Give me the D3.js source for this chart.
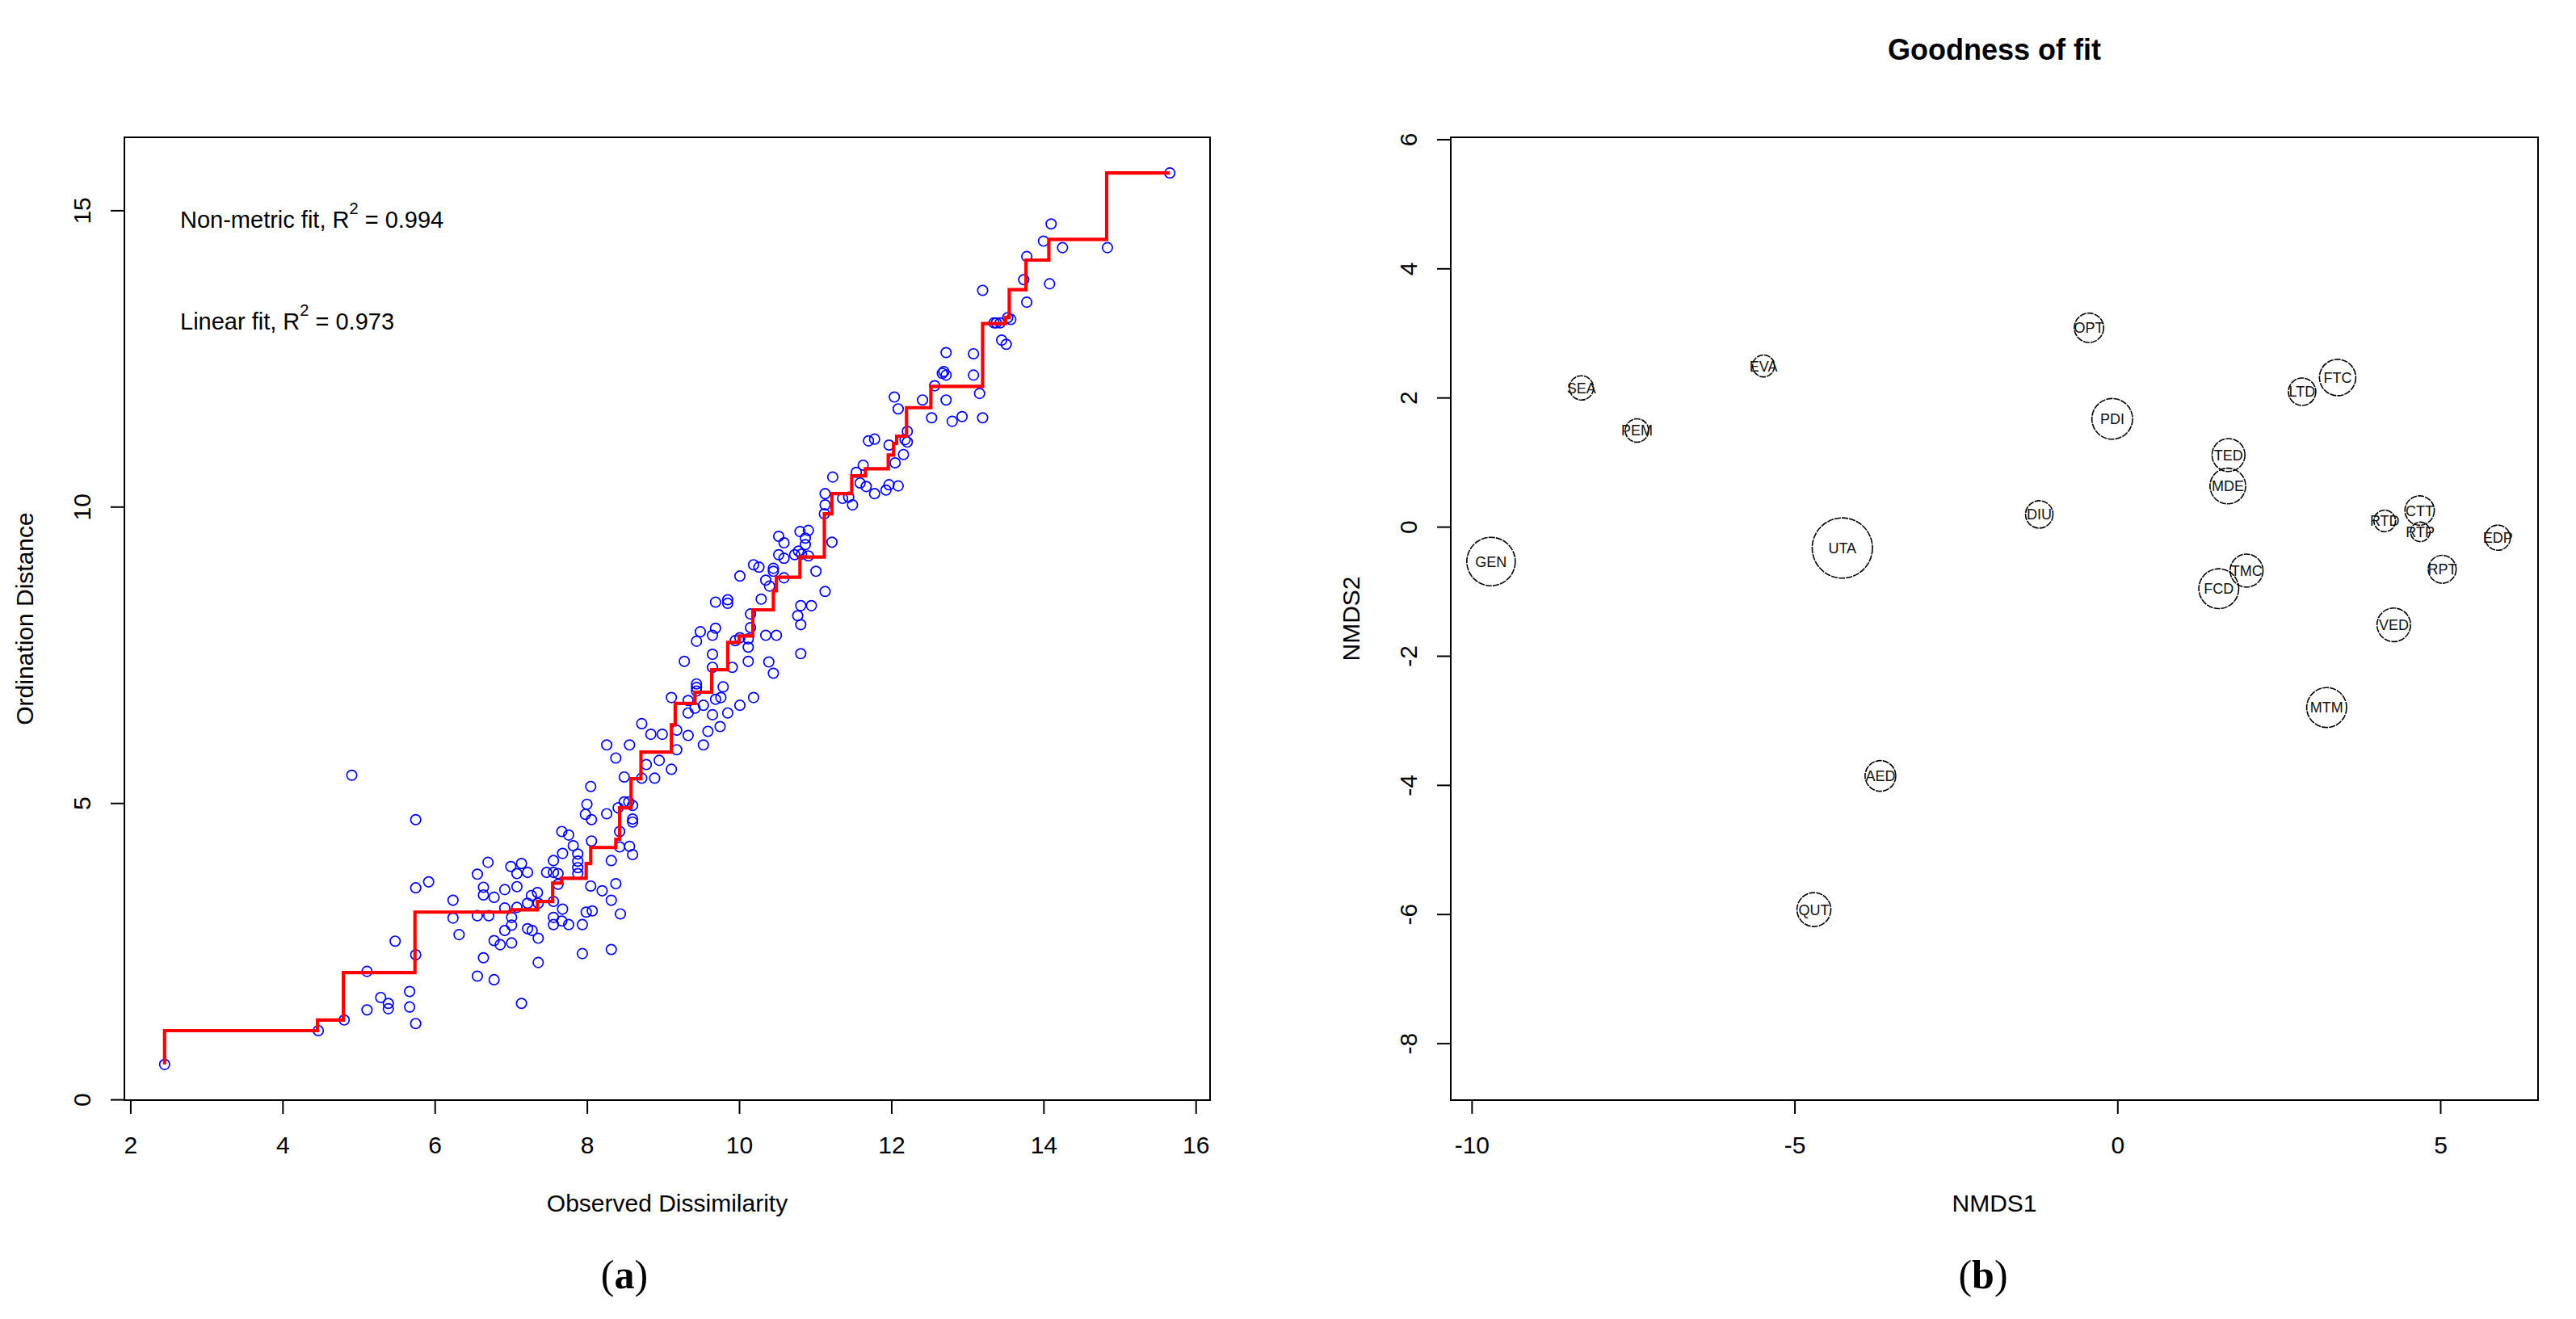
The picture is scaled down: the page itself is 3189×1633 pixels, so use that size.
<!DOCTYPE html>
<html>
<head>
<meta charset="utf-8">
<script src="https://cdn.jsdelivr.net/npm/d3@7"></script>
<style>
  body { margin: 0; background: #fff; }
  svg text { font-family: "Liberation Sans", Arial, sans-serif; fill: #000; }
</style>
</head>
<body>
<div id="chart"></div>
<script>
// ---- panel (a): Shepard diagram, observed dissimilarity vs ordination distance
var dissim = [
  2.45, 4.47, 4.81, 4.91, 5.75, 5.11, 5.29, 5.39, 5.39, 5.67, 5.67, 5.75, 5.11, 5.48, 5.75, 5.75,
  5.92, 6.24, 6.24, 6.32, 6.56, 6.70, 6.64, 6.64, 6.78, 6.56, 6.71, 6.64, 6.56, 6.78, 6.78, 6.86,
  7.01, 7.14, 6.92, 7.00, 7.14, 7.08, 7.22, 7.08, 6.92, 7.08, 7.01, 7.01, 6.92, 7.22, 7.28, 7.36,
  7.36, 7.27, 7.35, 7.22, 7.36, 7.47, 7.56, 7.62, 7.56, 7.68, 7.67, 7.76, 7.82, 7.62, 7.56, 7.68,
  7.56, 7.56, 7.67, 7.76,
  7.94, 8.32, 7.94, 7.99, 8.07, 8.44, 8.32, 8.20, 8.38, 8.05, 7.88, 7.88, 7.88, 7.88, 8.06, 8.32,
  8.43, 8.56, 8.60, 8.43, 8.00, 7.98, 8.06, 8.26, 8.05, 8.41, 8.49, 8.55, 8.60, 8.60, 8.60, 8.49,
  8.72, 8.89, 8.78, 8.38, 8.26, 8.56, 8.95, 9.11, 9.18, 9.18, 8.72, 8.84, 8.99, 9.33, 9.53, 9.59,
  9.75, 9.11, 9.33, 9.33, 9.42, 9.53, 9.65, 9.85, 10.01, 10.19, 9.69, 9.76, 9.79, 9.44, 9.44, 9.44,
  9.28, 9.65, 9.65, 9.91, 10.12, 10.39, 10.45, 10.81, 9.44, 9.49, 9.65, 9.69, 9.95, 10.01, 10.12, 10.12,
  10.15, 10.35, 10.49, 10.15, 10.29, 9.69, 9.85, 9.85, 10.01, 10.19, 10.26, 10.45, 10.45, 10.35, 10.40, 10.59,
  11.01, 11.13, 10.81, 10.95, 10.77, 10.81, 10.52, 10.59, 10.52, 10.59, 10.73, 10.78, 10.82, 10.80, 10.91, 10.87,
  10.87, 10.91, 11.22,
  11.12, 11.13, 11.13, 11.36, 11.44, 11.49, 11.23, 11.54, 11.63, 11.59, 11.67, 11.78, 11.93, 11.97, 12.09, 11.70,
  11.78, 11.97, 12.05, 12.16, 12.21, 12.18, 12.21, 12.04, 12.09, 12.41, 12.53, 12.80, 12.93, 13.20, 12.72, 13.16,
  12.57, 13.08, 12.69, 12.72, 12.67, 12.72, 13.08, 13.45, 13.51, 13.35, 13.38, 13.43, 13.53, 13.57, 13.20, 13.78,
  13.74, 14.08, 13.78, 14.00, 14.25, 14.10, 14.84, 15.66
];
var ordDist = [
  0.59, 1.16, 1.34, 5.47, 4.72, 1.51, 1.72, 1.62, 1.53, 1.82, 1.56, 1.28, 2.16, 2.67, 2.44, 3.57,
  3.67, 3.36, 3.06, 2.78, 3.80, 4.00, 3.58, 3.45, 3.41, 3.10, 3.10, 2.39, 2.08, 2.02, 2.68, 2.61,
  2.64, 1.62, 3.54, 3.93, 3.98, 3.81, 3.83, 3.59, 3.23, 3.24, 3.07, 2.94, 2.85, 2.88, 2.85, 2.72,
  2.31, 3.44, 3.49, 3.31, 3.31, 3.83, 3.83, 3.81, 4.03, 4.15, 4.52, 4.46, 4.28, 3.63, 3.34, 3.21,
  3.07, 2.95, 3.01, 2.95,
  2.46, 2.53, 2.95, 3.16, 3.18, 3.13, 3.36, 3.52, 3.64, 3.60, 4.14, 4.02, 3.91, 3.81, 4.36, 4.03,
  4.26, 4.27, 4.13, 4.52, 4.98, 4.81, 4.72, 4.82, 5.28, 4.92, 5.02, 5.02, 4.96, 4.73, 4.68, 5.44,
  5.42, 5.42, 5.65, 5.76, 5.98, 5.98, 5.72, 5.57, 5.90, 6.23, 6.34, 6.16, 6.16, 6.14, 5.98, 6.21,
  6.29, 6.78, 6.73, 6.52, 6.60, 6.65, 6.49, 6.52, 6.65, 6.78, 6.75, 6.78, 6.96, 7.01, 6.95, 6.89,
  7.39, 7.51, 7.29, 7.29, 7.39, 7.38, 7.19, 7.52, 7.73, 7.89, 7.83, 7.95, 7.74, 7.79, 7.63, 7.77,
  7.96, 7.83, 7.83, 8.19, 8.44, 8.39, 8.43, 8.37, 8.83, 9.02, 8.98, 8.96, 8.91, 8.76, 8.66, 8.80,
  8.91, 8.57, 8.33, 8.33, 8.16, 8.01, 9.50, 9.39, 9.19, 9.13, 9.19, 9.25, 9.20, 9.58, 9.60, 9.47,
  9.36, 9.17, 9.40,
  9.88, 10.03, 10.22, 10.14, 10.16, 10.03, 10.50, 10.58, 10.70, 10.40, 10.34, 10.22, 10.28, 10.37, 10.35, 11.11,
  11.14, 11.04, 10.74, 10.88, 11.27, 11.13, 11.09, 11.85, 11.65, 11.80, 11.50, 11.44, 11.52, 11.50, 11.80, 11.91,
  12.04, 12.22, 12.28, 12.22, 12.25, 12.60, 12.58, 12.81, 12.74, 13.10, 13.10, 13.10, 13.19, 13.16, 13.65, 13.45,
  13.83, 13.76, 14.22, 14.48, 14.37, 14.77, 14.37, 15.63
];
// monotone (non-metric) fit, drawn as a step line
var fitX = [2.45, 4.46, 4.80, 5.74, 7.00, 7.35, 7.55, 7.67, 7.99, 8.05, 8.38, 8.43, 8.58, 8.71, 9.11, 9.16,
  9.42, 9.64, 9.85, 10.00, 10.18, 10.45, 10.49, 10.80, 11.12, 11.22, 11.48, 11.66, 11.96, 12.03, 12.07, 12.20,
  12.52, 13.20, 13.50, 13.55, 13.77, 14.07, 14.83, 15.66];
var fitY = [0.59, 1.16, 1.34, 2.14, 3.16, 3.20, 3.34, 3.65, 3.73, 3.98, 4.25, 4.39, 4.92, 5.41, 5.86, 6.32,
  6.68, 6.87, 7.25, 7.71, 7.82, 8.26, 8.58, 8.81, 9.15, 9.88, 10.22, 10.52, 10.64, 10.87, 11.07, 11.19,
  11.67, 12.03, 13.09, 13.19, 13.66, 14.16, 14.51, 15.63];
var xTicksA = [2, 4, 6, 8, 10, 12, 14, 16];
var yTicksA = [0, 5, 10, 15];

// ---- panel (b): NMDS site scores, circle size = goodness of fit
var sites = ["GEN", "SEA", "PEM", "EVA", "UTA", "DIU", "AED", "QUT", "OPT", "PDI", "LTD", "FTC",
  "TED", "MDE", "RTD", "CTT", "RTP", "EDP", "RPT", "TMC", "FCD", "VED", "MTM"];
var nmds1 = [-9.70, -8.30, -7.44, -5.48, -4.26, -1.21, -3.67, -4.70, -0.44, -0.08, 2.86, 3.41,
  1.72, 1.71, 4.14, 4.68, 4.69, 5.89, 5.03, 2.00, 1.57, 4.28, 3.24];
var nmds2 = [-0.54, 2.15, 1.49, 2.49, -0.33, 0.19, -3.86, -5.93, 3.08, 1.67, 2.09, 2.31,
  1.11, 0.63, 0.09, 0.25, -0.08, -0.17, -0.66, -0.68, -0.96, -1.52, -2.80];
var gof = [0.300, 0.150, 0.145, 0.136, 0.373, 0.170, 0.190, 0.210, 0.182, 0.252, 0.170, 0.225,
  0.204, 0.221, 0.134, 0.182, 0.121, 0.156, 0.173, 0.204, 0.247, 0.208, 0.247];
var xTicksB = [-10, -5, 0, 5];
var yTicksB = [6, 4, 2, 0, -2, -4, -6, -8];

var W = 3189, H = 1633;
var svg = d3.select("#chart").append("svg")
  .attr("width", W)
  .attr("height", H);

// R style limits: data range padded by 4% each side
function pad(ext) {
  var d = (ext[1] - ext[0]) * 0.04;
  return [ext[0] - d, ext[1] + d];
}

var boxA = { left: 154, right: 1498, top: 170, bottom: 1362 };
var boxB = { left: 1796, right: 3142, top: 170, bottom: 1362 };

// plain hyphen for negatives, as R prints them
var fmt = d => String(d);

// ---------- panel (a) ----------
var xA = d3.scaleLinear()
  .domain(pad(d3.extent(dissim)))
  .range([boxA.left, boxA.right]);
var yA = d3.scaleLinear()
  .domain(pad(d3.extent(ordDist)))
  .range([boxA.bottom, boxA.top]);

function drawAxes(box, xs, ys, xt, yt) {
  var gx = svg.append("g")
    .attr("transform", `translate(0, ${box.bottom})`)
    .call(d3.axisBottom(xs).tickValues(xt).tickSize(17).tickPadding(28).tickFormat(fmt));
  gx.select(".domain").remove();
  gx.selectAll("line").attr("stroke", "#000").attr("stroke-width", 2);
  gx.selectAll("text")
    .style("font-size", "30px");

  var gy = svg.append("g")
    .attr("transform", `translate(${box.left}, 0)`)
    .call(d3.axisLeft(ys).tickValues(yt).tickSize(17).tickFormat(fmt));
  gy.select(".domain").remove();
  gy.selectAll("line").attr("stroke", "#000").attr("stroke-width", 2);
  // y labels parallel to the axis, like R's las = 0
  gy.selectAll("text")
    .attr("transform", "rotate(-90)")
    .attr("x", 0)
    .attr("y", -42)
    .attr("dy", null)
    .attr("text-anchor", "middle")
    .style("font-size", "30px");

  svg.append("rect")
    .attr("x", box.left)
    .attr("y", box.top)
    .attr("width", box.right - box.left)
    .attr("height", box.bottom - box.top)
    .attr("fill", "none")
    .attr("stroke", "#000")
    .attr("stroke-width", 2);
}

drawAxes(boxA, xA, yA, xTicksA, yTicksA);

// points
svg.append("g").selectAll("circle")
  .data(dissim)
  .enter()
  .append("circle")
  .attr("cx", d => xA(d))
  .attr("cy", (d, i) => yA(ordDist[i]))
  .attr("r", 6.2)
  .attr("fill", "none")
  .attr("stroke", "#0000ff")
  .attr("stroke-width", 1.7);

// step fit line
var stepLine = d3.line()
  .x(d => xA(d[0]))
  .y(d => yA(d[1]))
  .curve(d3.curveStepBefore);

svg.append("path")
  .datum(fitX.map((x, i) => [x, fitY[i]]))
  .attr("d", stepLine)
  .attr("fill", "none")
  .attr("stroke", "#ff0000")
  .attr("stroke-width", 4.2);

// fit annotations
function fitLabel(y, lead, val) {
  var t = svg.append("text")
    .attr("x", 223)
    .attr("y", y)
    .style("font-size", "29px");
  t.append("tspan").text(lead + "R");
  t.append("tspan").attr("dy", -17).style("font-size", "20px").text("2");
  t.append("tspan").attr("dy", 17).text(" = " + val);
}
fitLabel(282, "Non-metric fit, ", "0.994");
fitLabel(408, "Linear fit, ", "0.973");

svg.append("text")
  .attr("x", (boxA.left + boxA.right) / 2)
  .attr("y", 1500)
  .attr("text-anchor", "middle")
  .style("font-size", "30px")
  .text("Observed Dissimilarity");

svg.append("text")
  .attr("transform", `translate(41, ${(boxA.top + boxA.bottom) / 2}) rotate(-90)`)
  .attr("text-anchor", "middle")
  .style("font-size", "30px")
  .text("Ordination Distance");

// ---------- panel (b) ----------
var xExt = pad(d3.extent(nmds1));
var yExt = pad(d3.extent(nmds2));
// equal aspect: widen the y range to the x scale's units per pixel
var upp = (xExt[1] - xExt[0]) / (boxB.right - boxB.left);
var yMid = (yExt[0] + yExt[1]) / 2;
var yHalf = upp * (boxB.bottom - boxB.top) / 2;

var xB = d3.scaleLinear()
  .domain(xExt)
  .range([boxB.left, boxB.right]);
var yB = d3.scaleLinear()
  .domain([yMid - yHalf, yMid + yHalf])
  .range([boxB.bottom, boxB.top]);

drawAxes(boxB, xB, yB, xTicksB, yTicksB);

var rScale = d3.scaleLinear()
  .domain([0, d3.max(gof)])
  .range([0, 37.3]);

var siteG = svg.append("g").selectAll("g")
  .data(sites)
  .enter()
  .append("g")
  .attr("transform", (d, i) => `translate(${xB(nmds1[i])}, ${yB(nmds2[i])})`);

siteG.append("circle")
  .attr("r", (d, i) => rScale(gof[i]))
  .attr("fill", "none")
  .attr("stroke", "#000")
  .attr("stroke-width", 1.6)
  .attr("stroke-dasharray", "8 1.2");

siteG.append("text")
  .attr("text-anchor", "middle")
  .attr("dy", "0.36em")
  .style("font-size", "18px")
  .style("fill", "#111")
  .text(d => d);

svg.append("text")
  .attr("x", (boxB.left + boxB.right) / 2)
  .attr("y", 74)
  .attr("text-anchor", "middle")
  .style("font-size", "36px")
  .style("font-weight", "bold")
  .text("Goodness of fit");

svg.append("text")
  .attr("x", (boxB.left + boxB.right) / 2)
  .attr("y", 1500)
  .attr("text-anchor", "middle")
  .style("font-size", "30px")
  .text("NMDS1");

svg.append("text")
  .attr("transform", `translate(1683, ${(boxB.top + boxB.bottom) / 2}) rotate(-90)`)
  .attr("text-anchor", "middle")
  .style("font-size", "30px")
  .text("NMDS2");

// ---------- captions ----------
function caption(x, letter) {
  var t = svg.append("text")
    .attr("x", x)
    .attr("y", 1595)
    .attr("text-anchor", "middle")
    .style("font-family", "'Liberation Serif', 'Times New Roman', serif")
    .style("font-size", "50px");
  t.append("tspan").text("(");
  t.append("tspan").style("font-weight", "bold").text(letter);
  t.append("tspan").text(")");
}
caption(773, "a");
caption(2455, "b");
</script>
</body>
</html>
